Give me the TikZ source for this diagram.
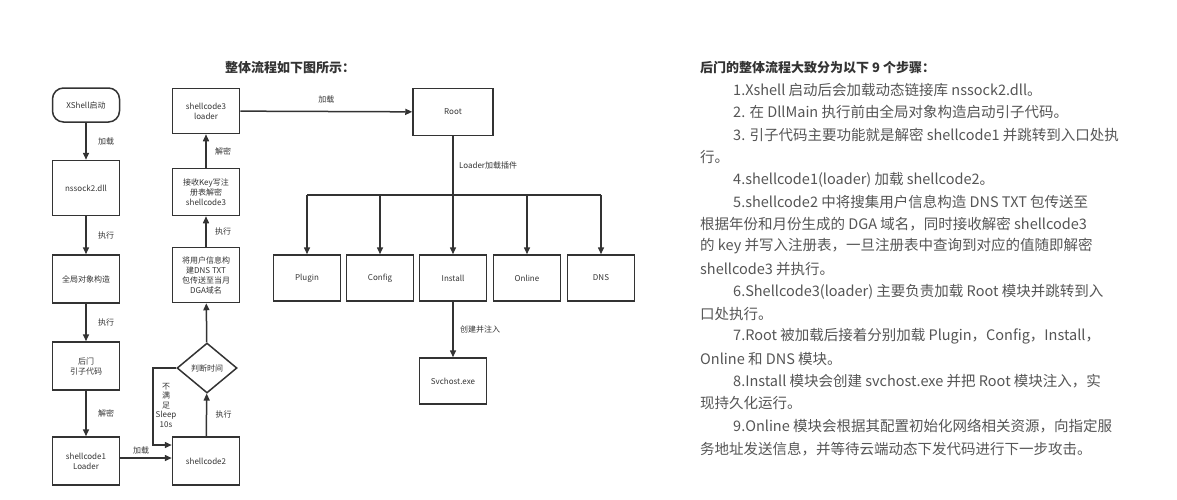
\documentclass[tikz,border=0pt]{standalone}
\usepackage{fontspec}
\setmainfont{Noto Sans CJK SC}
\usetikzlibrary{shapes.geometric,arrows.meta}
\definecolor{ln}{HTML}{333333}
\definecolor{tx}{HTML}{555555}
\begin{document}
\begin{tikzpicture}[x=1pt,y=-1pt,
  box/.style={draw=ln,line width=1.5pt,minimum width=67pt,align=center,font=\fontsize{8}{10}\selectfont,text=ln,inner sep=1pt},
  arr/.style={draw=ln,line width=1.5pt,-{Triangle[length=7pt,width=6pt]}},
  lbl/.style={font=\fontsize{8}{10}\selectfont,text=ln},
  para/.style={anchor=west,font=\fontsize{14.5}{16}\selectfont,text=tx,inner sep=0pt}]
\useasboundingbox (0,0) rectangle (1177,499);
% left column
\node[box,rounded corners=11pt,minimum height=34pt] (xs) at (86,105) {XShell启动};
\node[box,minimum height=55pt] (ns) at (86,188) {nssock2.dll};
\node[box,minimum height=48pt] (gj) at (86,279) {全局对象构造};
\node[box,minimum height=48pt] (hm) at (86,366) {后门\\引子代码};
\node[box,minimum height=48pt] (s1) at (86,461) {shellcode1\\Loader};
\node[box,minimum height=48pt] (s2) at (206,461) {shellcode2};
\node[box,diamond,minimum width=60pt,minimum height=50pt,aspect=1.2] (pd) at (207,368) {判断时间};
\node[box,minimum height=55pt,inner sep=0pt] (dga) at (206,275) {将用户信息构\\建DNS TXT\\包传送至当月\\DGA域名};
\node[box,minimum height=47pt] (key) at (206,192) {接收Key写注\\册表解密\\shellcode3};
\node[box,minimum height=45pt] (s3) at (206,111) {shellcode3\\loader};
% right
\node[box,minimum width=80pt,minimum height=47pt] (root) at (453,112) {Root};
\node[box,minimum height=46pt] (pl) at (307,278) {Plugin};
\node[box,minimum height=46pt] (cf) at (380,278) {Config};
\node[box,minimum height=46pt] (in) at (453,278) {Install};
\node[box,minimum height=46pt] (on) at (527,278) {Online};
\node[box,minimum height=46pt] (dn) at (601,278) {DNS};
\node[box,minimum height=46pt] (sv) at (453,381) {Svchost.exe};
\coordinate (bus) at (453,195);
% arrows
\draw[arr] (xs) -- (ns) node[lbl,midway,right=8pt] {加载};
\draw[arr] (ns) -- (gj) node[lbl,midway,right=8pt] {执行};
\draw[arr] (gj) -- (hm) node[lbl,midway,right=8pt] {执行};
\draw[arr] (hm) -- (s1) node[lbl,midway,right=8pt] {解密};
\draw[arr] (s1.east |- 0,458) -- (s2.west |- 0,458);
\node[lbl] (jz) at (141,450) {加载};
\draw[arr] (s2) -- (pd) node[lbl,midway,right=5pt] {执行};
\draw[arr] (pd.west) -| (153,445) -- (s2.west |- 0,445);
\node[lbl,align=center,font=\fontsize{8}{9.5}\selectfont] (bm) at (166,405) {不\\满\\足\\Sleep\\10s};
\draw[arr] (pd) -- (dga);
\draw[arr] (dga) -- (key) node[lbl,midway,right=5pt] {执行};
\draw[arr] (key) -- (s3) node[lbl,midway,right=5pt] {解密};
\draw[arr] (s3) -- (root) node[lbl,midway,above=4pt] {加载};
\draw[draw=ln,line width=1.5pt] (root) -- (bus) node[lbl,pos=0.5,right=2pt] {Loader加载插件};
\draw[draw=ln,line width=1.5pt] (pl.north |- bus) -- (dn.north |- bus);
\foreach \m in {pl,cf,in,on,dn} \draw[arr] (\m.north |- bus) -- (\m);
\draw[arr] (in) -- (sv) node[lbl,midway,right=3pt] {创建并注入};
% titles
\node[font=\bfseries\fontsize{13}{15}\selectfont,text=ln] (t1) at (290,68) {整体流程如下图所示：};
\node[para,font=\bfseries\fontsize{13}{15}\selectfont,text=ln] (t2) at (700,68) {后门的整体流程大致分为以下 9 个步骤：};
\node[para] (l1) at (733,90) {1.Xshell 启动后会加载动态链接库 nssock2.dll。};
\node[para] (l2) at (733,112) {2. 在 DllMain 执行前由全局对象构造启动引子代码。};
\node[para] (l3) at (733,135) {3. 引子代码主要功能就是解密 shellcode1 并跳转到入口处执};
\node[para] (l4) at (700,157) {行。};
\node[para] (l5) at (733,180) {4.shellcode1(loader) 加载 shellcode2。};
\node[para] (l6) at (733,202) {5.shellcode2 中将搜集用户信息构造 DNS TXT 包传送至};
\node[para] (l7) at (700,224) {根据年份和月份生成的 DGA 域名，同时接收解密 shellcode3};
\node[para] (l8) at (700,246) {的 key 并写入注册表，一旦注册表中查询到对应的值随即解密};
\node[para] (l9) at (700,269) {shellcode3 并执行。};
\node[para] (l10) at (733,292) {6.Shellcode3(loader) 主要负责加载 Root 模块并跳转到入};
\node[para] (l11) at (700,314) {口处执行。};
\node[para] (l12) at (733,336) {7.Root 被加载后接着分别加载 Plugin，Config，Install，};
\node[para] (l13) at (700,359) {Online 和 DNS 模块。};
\node[para] (l14) at (733,381) {8.Install 模块会创建 svchost.exe 并把 Root 模块注入，实};
\node[para] (l15) at (700,403) {现持久化运行。};
\node[para] (l16) at (733,426) {9.Online 模块会根据其配置初始化网络相关资源，向指定服};
\node[para] (l17) at (700,449) {务地址发送信息，并等待云端动态下发代码进行下一步攻击。};
\end{tikzpicture}
\end{document}
